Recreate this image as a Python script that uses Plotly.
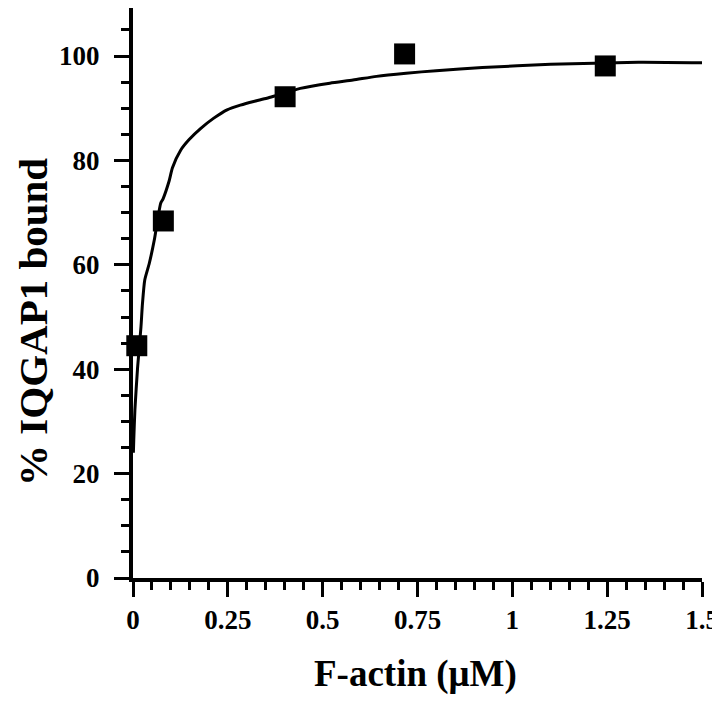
import plotly.graph_objects as go

actina = [0.010, 0.080, 0.401, 0.716, 1.245]
unido = [44.5, 68.4, 92.2, 100.4, 98.1]

# fitted curve, points
curva_x = [0.001, 0.002, 0.005, 0.012, 0.021, 0.025, 0.031, 0.043, 0.056, 0.073,
           0.079, 0.095, 0.104, 0.126, 0.148, 0.178, 0.213, 0.248, 0.283, 0.318,
           0.353, 0.380, 0.441, 0.519, 0.580, 0.642, 0.720, 0.799, 0.921, 1.101,
           1.332, 1.5]
curva_y = [24.0, 26.4, 32.2, 40.2, 48.1, 52.6, 57.1, 60.3, 64.7, 71.8,
           72.6, 76.0, 78.6, 82.0, 84.0, 86.1, 88.1, 89.7, 90.6, 91.3,
           91.9, 92.5, 93.8, 94.8, 95.4, 96.1, 96.7, 97.2, 97.8, 98.4,
           98.8, 98.7]

xticks = [0, 0.25, 0.5, 0.75, 1, 1.25, 1.5]
xtick_txt = ["0", "0.25", "0.5", "0.75", "1", "1.25", "1.5"]
yticks = [0, 20, 40, 60, 80, 100]

fuente = "Liberation Serif"

fig = go.Figure()

# curva ajustada
fig.add_trace(go.Scatter(x=curva_x, y=curva_y, mode="lines",
                         line=dict(color="black", width=3, shape="spline", smoothing=0.6),
                         cliponaxis=False, showlegend=False))
# puntos
fig.add_trace(go.Scatter(x=actina, y=unido, mode="markers",
                         marker=dict(symbol="square", size=21, color="black"),
                         cliponaxis=False, showlegend=False))

ejes = dict(showline=True, linewidth=4, linecolor="black",
            ticks="outside", ticklen=15, tickwidth=3, tickcolor="black",
            showgrid=False, zeroline=False, automargin=False,
            ticklabeloverflow="allow",
            tickfont=dict(family=fuente, size=27, weight="bold"))

# la pagina tiene 8px de margen, por eso la figura es algo mas chica
fig.update_layout(
    width=712, height=693,
    margin=dict(l=125, r=18, t=0, b=123),
    plot_bgcolor="white", paper_bgcolor="white",
    font=dict(family=fuente, color="black", size=27),
    xaxis=dict(range=[0, 1.5], tickvals=xticks, ticktext=xtick_txt,
               minor=dict(dtick=0.05, ticks="outside", ticklen=8, tickwidth=2.5,
                          tickcolor="black", showgrid=False),
               **ejes),
    yaxis=dict(range=[0, 109.2], tickvals=yticks, ticklabelstandoff=9,
               minor=dict(dtick=5, ticks="outside", ticklen=8, tickwidth=2.5,
                          tickcolor="black", showgrid=False),
               **ejes),
)

# titulos de los ejes
fig.add_annotation(text="F-actin (μM)", xref="paper", yref="paper",
                   x=0.496, y=-0.168, xanchor="center", yanchor="middle",
                   showarrow=False,
                   font=dict(family=fuente, size=37, weight="bold"))
fig.add_annotation(text="% IQGAP1 bound", xref="paper", yref="paper",
                   x=-0.176, y=0.449, xanchor="center", yanchor="middle",
                   textangle=-90, showarrow=False,
                   font=dict(family=fuente, size=41, weight="bold"))

fig.write_html("out.html")
